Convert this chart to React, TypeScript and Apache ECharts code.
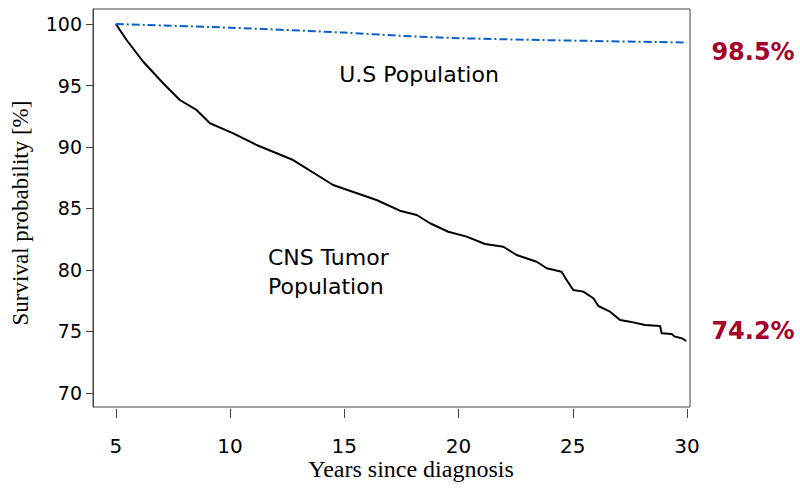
import React, { useEffect, useRef } from "react";
import * as echarts from "echarts";

const xTicks = [5, 10, 15, 20, 25, 30];
const yTicks = [70, 75, 80, 85, 90, 95, 100];

const cnsYears = [
  5, 5.47, 6.2, 7.07, 7.8, 8.53, 9.12, 10.14, 11.16, 12.76, 14.51, 16.41,
  17.43, 18.17, 18.75, 19.55, 20.35, 21.16, 21.96, 22.54, 23.42, 23.86,
  24.51, 24.73, 25.02, 25.46, 25.9, 26.12, 26.63, 27.07, 27.5, 28.16,
  28.82, 28.89, 29.33, 29.47, 29.77, 29.96,
];
const cnsSurvival = [
  100, 98.7, 96.93, 95.18, 93.82, 93.01, 91.93, 91.11, 90.16, 88.94, 86.91,
  85.69, 84.82, 84.47, 83.8, 83.11, 82.71, 82.11, 81.89, 81.22, 80.67,
  80.14, 79.86, 79.19, 78.37, 78.24, 77.7, 77.07, 76.61, 75.93, 75.8,
  75.53, 75.45, 74.85, 74.8, 74.58, 74.45, 74.23,
];

const usYears = [5, 10, 15, 17.4, 20, 25, 30];
const usSurvival = [100, 99.7, 99.3, 99.05, 98.85, 98.65, 98.5];

const endLabels = ["98.5%", "74.2%"];

export default function App() {
  const ref = useRef<HTMLDivElement>(null);
  useEffect(() => {
    document.body.style.margin = "0";
    const chart = echarts.init(ref.current!, null, { renderer: "svg" });
    const sans = "DejaVu Sans";
    const serif = "Liberation Serif";
    chart.setOption({
      animation: false,
      backgroundColor: "#fff",
      grid: {
        left: 93,
        top: 9,
        width: 597,
        height: 398,
        show: true,
        borderColor: "#444",
        borderWidth: 1,
        backgroundColor: "transparent",
      },
      xAxis: {
        type: "value",
        min: 4,
        max: 30.13,
        offset: 2,
        axisLine: { show: false },
        axisTick: {
          show: true,
          length: 9,
          customValues: xTicks,
          lineStyle: { color: "#444" },
        },
        axisLabel: {
          customValues: xTicks,
          margin: 27,
          fontSize: 20,
          fontFamily: sans,
          color: "#000",
        },
        splitLine: { show: false },
      },
      yAxis: {
        type: "value",
        min: 68.86,
        max: 101.22,
        axisLine: { show: true, lineStyle: { color: "#444" } },
        axisTick: {
          show: true,
          length: 7,
          customValues: yTicks,
          lineStyle: { color: "#444" },
        },
        axisLabel: {
          customValues: yTicks,
          margin: 11,
          fontSize: 19,
          fontFamily: sans,
          color: "#000",
        },
        splitLine: { show: false },
      },
      series: [
        {
          type: "line",
          name: "U.S Population",
          data: usYears.map((x, i) => [x, usSurvival[i]]),
          showSymbol: false,
          smooth: 0.3,
          lineStyle: { color: "#0a5fc4", width: 2, type: [8, 3, 2, 3] },
          z: 3,
        },
        {
          type: "line",
          name: "CNS Tumor Population",
          data: cnsYears.map((x, i) => [x, cnsSurvival[i]]),
          showSymbol: false,
          lineStyle: { color: "#000", width: 2 },
          z: 2,
        },
      ],
      graphic: [
        {
          type: "text",
          x: 419,
          y: 74,
          style: {
            text: "U.S Population",
            fontSize: 22,
            fontFamily: sans,
            fill: "#000",
            align: "center",
            verticalAlign: "middle",
          },
        },
        {
          type: "text",
          x: 268,
          y: 272,
          style: {
            text: "CNS Tumor\nPopulation",
            fontSize: 22,
            lineHeight: 29,
            fontFamily: sans,
            fill: "#000",
            align: "left",
            verticalAlign: "middle",
          },
        },
        {
          type: "text",
          x: 753,
          y: 52,
          style: {
            text: endLabels[0],
            fontSize: 24,
            fontWeight: "bold",
            fontFamily: sans,
            fill: "#a6002c",
            align: "center",
            verticalAlign: "middle",
          },
        },
        {
          type: "text",
          x: 753,
          y: 331,
          style: {
            text: endLabels[1],
            fontSize: 24,
            fontWeight: "bold",
            fontFamily: sans,
            fill: "#a6002c",
            align: "center",
            verticalAlign: "middle",
          },
        },
        {
          type: "text",
          x: 411,
          y: 469,
          style: {
            text: "Years since diagnosis",
            fontSize: 24,
            fontFamily: serif,
            fill: "#000",
            align: "center",
            verticalAlign: "middle",
          },
        },
        {
          type: "text",
          x: 20,
          y: 213,
          rotation: Math.PI / 2,
          style: {
            text: "Survival probability [%]",
            fontSize: 23,
            fontFamily: serif,
            fill: "#000",
            align: "center",
            verticalAlign: "middle",
          },
        },
      ],
    });
    return () => chart.dispose();
  }, []);
  return <div ref={ref} style={{ width: 800, height: 488 }} />;
}
